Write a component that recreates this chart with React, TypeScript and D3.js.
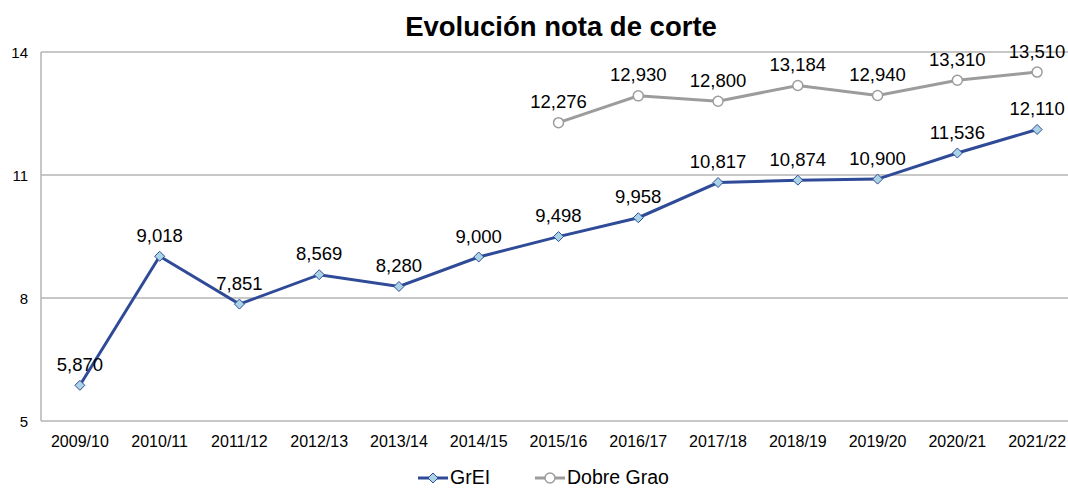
import React from "react";
import * as d3 from "d3";

const categories = [
  "2009/10", "2010/11", "2011/12", "2012/13", "2013/14", "2014/15", "2015/16",
  "2016/17", "2017/18", "2018/19", "2019/20", "2020/21", "2021/22",
];
const greiValues: (number | null)[] = [
  5.87, 9.018, 7.851, 8.569, 8.28, 9.0, 9.498, 9.958, 10.817, 10.874, 10.9, 11.536, 12.11,
];
const dobreValues: (number | null)[] = [
  null, null, null, null, null, null, 12.276, 12.93, 12.8, 13.184, 12.94, 13.31, 13.51,
];
const yTicks = [5, 8, 11, 14];
const title = "Evolución nota de corte";
const seriesNames = ["GrEI", "Dobre Grao"];

const W = 1068;
const H = 488;
const FONT = "'Liberation Sans', Arial, sans-serif";
const BLUE = "#2F4B98";
const BLUE_FILL = "#AAD3E6";
const GRAY = "#9C9C9C";
const GRID = "#B4B4B4";

export default function App() {
  const x = d3.scaleBand<string>().domain(categories).range([40, 1077]).padding(0);
  const cx = (c: string) => (x(c) as number) + x.bandwidth() / 2;
  const y = d3.scaleLinear().domain([5, 14]).range([421, 52]);
  const left = 41;
  const right = W;

  const line = d3
    .line<[string, number | null]>()
    .defined((d) => d[1] !== null)
    .x((d) => cx(d[0]))
    .y((d) => y(d[1] as number));

  const grei = categories.map((c, i) => [c, greiValues[i]] as [string, number | null]);
  const dobre = categories.map((c, i) => [c, dobreValues[i]] as [string, number | null]);
  const fmt = (v: number) => v.toFixed(3).replace(".", ",");
  const diamond = (px: number, py: number, r: number) =>
    `M${px},${py - r}L${px + r},${py}L${px},${py + r}L${px - r},${py}Z`;

  return (
    <svg
      width={W}
      height={H}
      style={{ position: "absolute", left: 0, top: 0, background: "#fff" }}
      fontFamily={FONT}
    >
      <rect width={W} height={H} fill="#fff" />
      <text x={561} y={36} textAnchor="middle" fontSize={27.5} fontWeight="bold" fill="#000">
        {title}
      </text>

      {yTicks.map((t) => (
        <g key={t}>
          <line x1={left} x2={right} y1={y(t)} y2={y(t)} stroke={GRID} strokeWidth={1.5} />
          <text x={28} y={y(t) + 5.5} textAnchor="end" fontSize={15} fill="#000">
            {t}
          </text>
        </g>
      ))}
      <line x1={left} x2={left} y1={y(14)} y2={y(5)} stroke={GRID} strokeWidth={1.5} />

      {categories.map((c) => (
        <text key={c} x={cx(c)} y={447} textAnchor="middle" fontSize={16} fill="#000">
          {c}
        </text>
      ))}

      <path d={line(dobre) || ""} fill="none" stroke={GRAY} strokeWidth={3} />
      <path d={line(grei) || ""} fill="none" stroke={BLUE} strokeWidth={3} />

      {dobre.map(([c, v]) =>
        v === null ? null : (
          <g key={"d" + c}>
            <circle cx={cx(c)} cy={y(v)} r={5} fill="#fff" stroke={GRAY} strokeWidth={1.5} />
            <text x={cx(c)} y={y(v) - 14.5} textAnchor="middle" fontSize={18.5} fill="#000">
              {fmt(v)}
            </text>
          </g>
        )
      )}
      {grei.map(([c, v]) =>
        v === null ? null : (
          <g key={"g" + c}>
            <path d={diamond(cx(c), y(v), 5)} fill={BLUE_FILL} stroke={BLUE} strokeWidth={1} />
            <text x={cx(c)} y={y(v) - 14.5} textAnchor="middle" fontSize={18.5} fill="#000">
              {fmt(v)}
            </text>
          </g>
        )
      )}

      {/* legend */}
      <g>
        <line x1={418} x2={448} y1={478} y2={478} stroke={BLUE} strokeWidth={3} />
        <path d={diamond(433, 478, 5)} fill={BLUE_FILL} stroke={BLUE} strokeWidth={1} />
        <text x={450} y={484} fontSize={19.5} fill="#000">
          {seriesNames[0]}
        </text>
        <line x1={535} x2={565} y1={478} y2={478} stroke={GRAY} strokeWidth={3} />
        <circle cx={550} cy={478} r={5} fill="#fff" stroke={GRAY} strokeWidth={1.5} />
        <text x={567} y={484} fontSize={19.5} fill="#000">
          {seriesNames[1]}
        </text>
      </g>
    </svg>
  );
}
